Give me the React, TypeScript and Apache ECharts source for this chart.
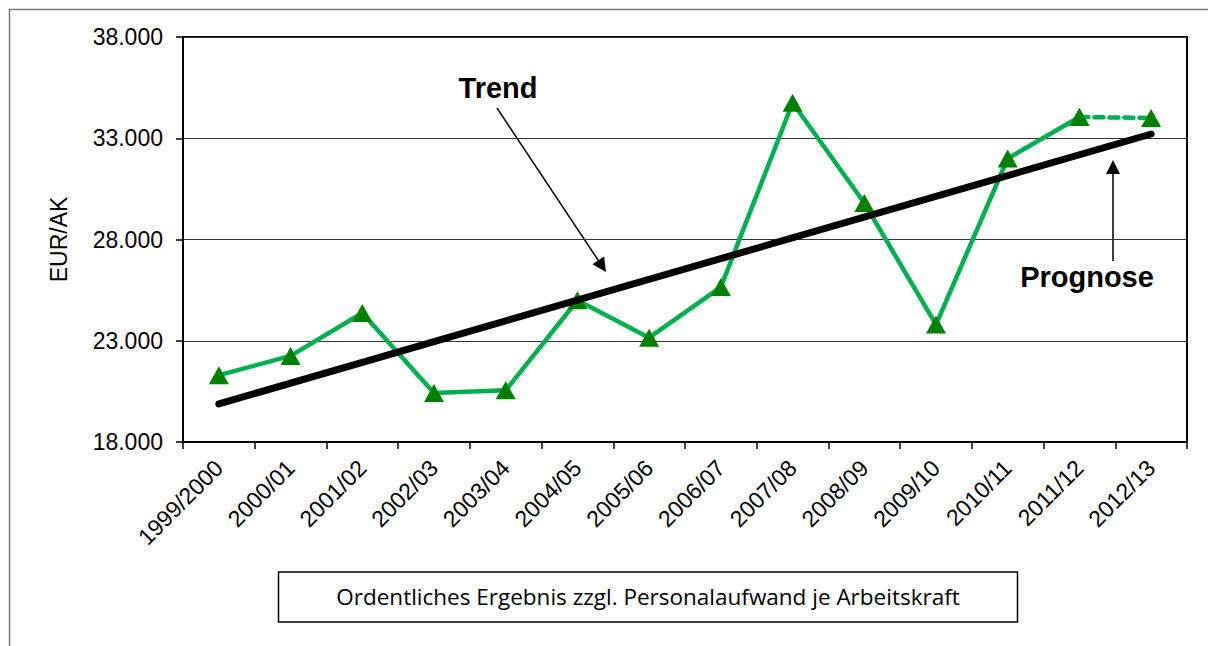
import React, { useEffect, useRef } from "react";
import * as echarts from "echarts";

const categories = [
  "1999/2000", "2000/01", "2001/02", "2002/03", "2003/04", "2004/05", "2005/06",
  "2006/07", "2007/08", "2008/09", "2009/10", "2010/11", "2011/12", "2012/13",
];
// actual results (last known year 2011/12)
const actualValues = [21300, 22250, 24370, 20420, 20550, 25000, 23150, 25650, 34750, 29800, 23800, 32000, 34050];
// forecast for 2012/13
const forecastValue = 34000;
// trend line endpoints (first and last category)
const trendStart = 19880;
const trendEnd = 33210;
const yTicks = { min: 18000, max: 38000, step: 5000 };
const legendLabel = "Ordentliches Ergebnis zzgl. Personalaufwand je Arbeitskraft";

const fmt = (v: number) => `${Math.floor(v / 1000)}.${String(v % 1000).padStart(3, "0")}`;

function arrowHead(tx: number, ty: number, fx: number, fy: number, len: number, half: number) {
  const dx = tx - fx, dy = ty - fy;
  const L = Math.hypot(dx, dy);
  const ux = dx / L, uy = dy / L;
  const bx = tx - ux * len, by = ty - uy * len;
  const px = -uy * half, py = ux * half;
  return { base: [bx, by], pts: [[tx, ty], [bx + px, by + py], [bx - px, by - py]] };
}

export default function App() {
  const ref = useRef<HTMLDivElement>(null);
  useEffect(() => {
    if (!ref.current) return;
    const chart = echarts.init(ref.current, null, { renderer: "svg" });
    const solid = [...actualValues, null];
    const dashed = categories.map((_, i) =>
      i === actualValues.length - 1 ? actualValues[i] : i === categories.length - 1 ? forecastValue : null
    );
    const trend = categories.map((_, i) =>
      i === 0 ? trendStart : i === categories.length - 1 ? trendEnd : null
    );
    const font = "'Liberation Sans', Arial, sans-serif";

    const a1 = arrowHead(606, 272, 497, 108, 14, 7);
    const a2 = arrowHead(1113, 160, 1113, 261, 14, 7);

    chart.setOption({
      animation: false,
      backgroundColor: "#fff",
      grid: {
        left: 183, right: 21, top: 37, bottom: 204,
        show: true, borderColor: "#000", borderWidth: 2, backgroundColor: "transparent",
      },
      xAxis: {
        type: "category",
        data: categories,
        boundaryGap: true,
        axisLine: { show: true, lineStyle: { color: "#000", width: 2 } },
        axisTick: { show: true, length: 7, lineStyle: { color: "#000", width: 1.5 } },
        axisLabel: { rotate: 45, interval: 0, fontSize: 23, color: "#000", fontFamily: font, margin: 22 },
        splitLine: { show: false },
      },
      yAxis: {
        type: "value",
        min: yTicks.min,
        max: yTicks.max,
        interval: yTicks.step,
        name: "EUR/AK",
        nameLocation: "middle",
        nameGap: 113,
        nameTextStyle: { fontSize: 23, color: "#000", fontFamily: font },
        axisLine: { show: true, lineStyle: { color: "#000", width: 2 } },
        axisTick: { show: true, length: 7, lineStyle: { color: "#000", width: 1.5 } },
        axisLabel: { fontSize: 23, color: "#000", fontFamily: font, margin: 20, formatter: fmt },
        splitLine: { show: true, lineStyle: { color: "#333", width: 1 } },
      },
      series: [
        {
          type: "line",
          data: solid,
          z: 3,
          symbol: "triangle",
          symbolSize: [20, 18],
          showAllSymbol: true,
          itemStyle: { color: "#008000" },
          lineStyle: { color: "#00B050", width: 4.5 },
        },
        {
          type: "line",
          data: dashed,
          z: 3,
          symbol: "triangle",
          symbolSize: [20, 18],
          showAllSymbol: true,
          itemStyle: { color: "#008000" },
          lineStyle: { color: "#00B050", width: 4.5, type: [9, 6], cap: "round" },
        },
        {
          type: "line",
          data: trend,
          z: 5,
          connectNulls: true,
          symbol: "none",
          lineStyle: { color: "#000", width: 7, cap: "round" },
        },
      ],
      graphic: [
        {
          type: "polyline",
          shape: { points: [[9.5, 646], [9.5, 9.5], [1208, 9.5]] },
          style: { stroke: "#777", lineWidth: 1.5, fill: "none" },
          silent: true,
        },
        {
          type: "text",
          x: 498, y: 88,
          style: { text: "Trend", font: `bold 29px ${font}`, fill: "#000", align: "center", verticalAlign: "middle" },
        },
        {
          type: "line",
          shape: { x1: 497, y1: 108, x2: a1.base[0], y2: a1.base[1] },
          style: { stroke: "#000", lineWidth: 1.5 },
        },
        { type: "polygon", shape: { points: a1.pts }, style: { fill: "#000" } },
        {
          type: "text",
          x: 1087, y: 277,
          style: { text: "Prognose", font: `bold 29px ${font}`, fill: "#000", align: "center", verticalAlign: "middle" },
        },
        {
          type: "line",
          shape: { x1: 1113, y1: 261, x2: a2.base[0], y2: a2.base[1] },
          style: { stroke: "#000", lineWidth: 1.5 },
        },
        { type: "polygon", shape: { points: a2.pts }, style: { fill: "#000" } },
        {
          type: "rect",
          shape: { x: 278.5, y: 572, width: 739, height: 50 },
          style: { fill: "#fff", stroke: "#000", lineWidth: 1.5 },
        },
        {
          type: "text",
          x: 648, y: 596,
          style: { text: legendLabel, font: `22.5px 'Open Sans', sans-serif`, fill: "#000", align: "center", verticalAlign: "middle" },
        },
      ],
    });
    return () => chart.dispose();
  }, []);
  return (
    <div
      ref={ref}
      style={{ position: "absolute", left: 0, top: 0, width: 1208, height: 646 }}
    />
  );
}
